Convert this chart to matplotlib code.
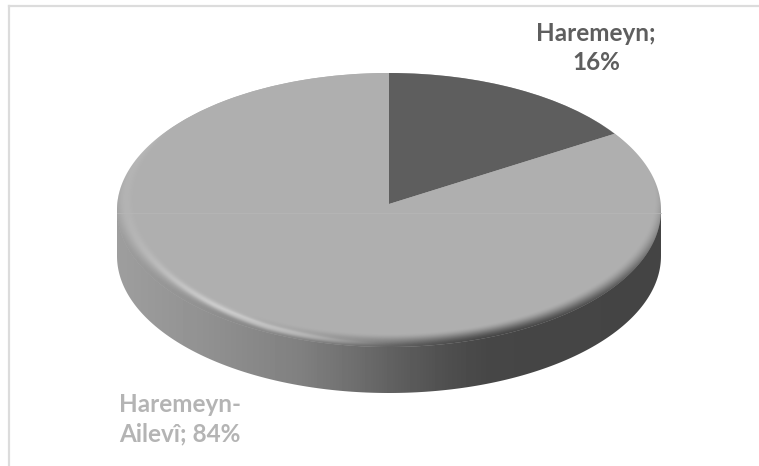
import numpy as np
import matplotlib
matplotlib.use("Agg")
import matplotlib.pyplot as plt
from matplotlib.patches import Polygon

labels = ["Haremeyn", "Haremeyn-\nAilevî"]
shares = [16, 84]
slice_colors = ["#5e5e5e", "#afafaf"]
label_colors = ["#5e5e5e", "#b4b4b4"]

W, H = 759, 466
# disc outline in pixels
CX, CY, RX, RY = 389, 210, 272, 137
DEPTH = 46
# the pie itself sits a bit higher than the disc centre (perspective in the original)
PIE_CY, PIE_RX, PIE_RY = 204, 267, 131


def to_data(xpx, ypx):
    return (np.asarray(xpx) - CX) / PIE_RX, (PIE_CY - np.asarray(ypx)) / PIE_RY


fig = plt.figure(figsize=(W / 100, H / 100), dpi=100)
ax = fig.add_axes([0, 0, 1, 1])

wedges, _ = ax.pie(shares, colors=slice_colors, startangle=90, counterclock=False,
                   center=(0, 0), radius=1, wedgeprops={"linewidth": 0, "zorder": 3})
x0, y0 = to_data(0, H)
x1, y1 = to_data(W, 0)
ax.set_aspect("auto")
ax.set_xlim(x0, x1)
ax.set_ylim(y0, y1)
ax.axis("off")
extent = [x0, x1, y0, y1]

# side wall, shaded along x
xp = np.arange(W) + 0.5
stops = [116, 200, 300, 350, 400, 450, 490, 665]
grays = [158, 146, 128, 112, 94, 78, 70, 68]
side_g = np.interp(xp, stops, grays) / 255.0
side_img = ax.imshow(np.tile(side_g, (H, 1)), cmap="gray", vmin=0, vmax=1, extent=extent,
                     aspect="auto", zorder=1, interpolation="bilinear")
th = np.linspace(np.pi, 0, 200)
ox = CX + RX * np.cos(th)
oy = CY + DEPTH + RY * np.sin(th)
ox = np.r_[CX - RX, ox, CX + RX]
oy = np.r_[CY, oy, CY]
side_patch = Polygon(np.column_stack(to_data(ox, oy)), closed=True, fc="none", ec="none")
ax.add_patch(side_patch)
side_img.set_clip_path(side_patch)

# top face filler, same grey as the large slice, reaches the rim of the disc
ang = np.linspace(0, 2 * np.pi, 400)
disc_xy = np.column_stack(to_data(CX + RX * np.cos(ang), CY + RY * np.sin(ang)))
ax.add_patch(Polygon(disc_xy, closed=True, fc=slice_colors[1], ec="none", zorder=2))

# bevel between top face and wall
yy, xx = np.mgrid[0:H, 0:W] + 0.5
u = (xx - CX) / RX
v = (yy - CY) / RY
r2 = np.hypot(u / 0.975, (v + 0.08) / 0.98)
w = np.interp(xx, [116, 267, 400], [0.05, 0.09, 0.10])
t = np.clip((r2 - 1) / w, 0, 1)
t = t * t * (3 - 2 * t)
rc = np.interp(xx, [120, 157, 267, 340], [0.99, 1.0, 1.055, 1.07])
hl = np.exp(-((r2 - rc) / 0.02) ** 2) * np.exp(-((xx - 265) / 90.0) ** 2) * 0.9
alpha = np.clip(t + hl, 0, 1)
g = np.tile(side_g, (H, 1))
gray = (g * t + (232 / 255.0) * hl) / np.maximum(t + hl, 1e-6)
rgba = np.dstack([gray, gray, gray, alpha])
bevel = ax.imshow(rgba, extent=extent, aspect="auto", zorder=4, interpolation="bilinear")
face = Polygon(disc_xy, closed=True, fc="none", ec="none")
ax.add_patch(face)
bevel.set_clip_path(face)

# faint seam across the face
fig.add_artist(plt.Line2D([117 / W, 661 / W], [1 - 213 / H] * 2, color="#b7b7b7", lw=0.5, zorder=5))

# chart frame, only top and left survive the crop
fig.add_artist(plt.Line2D([8.5 / W, 1], [1 - 5.5 / H] * 2, color="#dcdcdc", lw=1.6))
fig.add_artist(plt.Line2D([8.5 / W] * 2, [0, 1 - 5.5 / H], color="#dcdcdc", lw=1.6))

font = dict(family="Lato", fontweight="bold", fontsize=17.5, linespacing=1.32)
fig.text(596 / W, 1 - 48 / H, f"{labels[0]};\n{shares[0]}%", color=label_colors[0],
         ha="center", va="center", **font)
fig.text(119 / W, 1 - 419 / H, f"{labels[1]}; {shares[1]}%", color=label_colors[1],
         ha="left", va="center", **font)

fig.savefig("out.png", dpi=100)
